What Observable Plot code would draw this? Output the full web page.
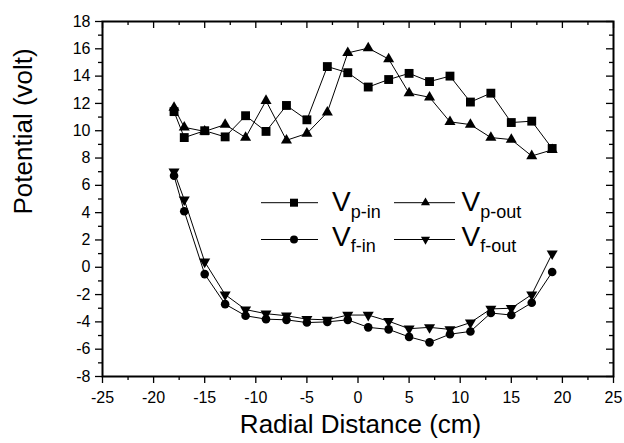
<!DOCTYPE html>
<html><head><meta charset="utf-8">
<script src="https://cdn.jsdelivr.net/npm/d3@7"></script>
<script src="https://cdn.jsdelivr.net/npm/@observablehq/plot@0.6"></script>
<style>
body{margin:0;background:#fff}
#chart{position:relative;width:624px;height:443px}
</style>
</head><body><div id="chart"></div>
<script>
// ---- data ----
const radius = [-18,-17,-15,-13,-11,-9,-7,-5,-3,-1,1,3,5,7,9,11,13,15,17,19];
const vpIn  = [11.4, 9.5, 10.0, 9.55, 11.1, 9.95, 11.85, 10.8, 14.7, 14.25, 13.2, 13.75, 14.2, 13.6, 14.0, 12.1, 12.75, 10.6, 10.7, 8.7];
const vpOut = [11.7, 10.25, 9.95, 10.45, 9.5, 12.2, 9.3, 9.8, 11.35, 15.7, 16.05, 15.25, 12.75, 12.45, 10.65, 10.45, 9.5, 9.35, 8.15, 8.6];
const vfIn  = [6.7, 4.1, -0.5, -2.7, -3.55, -3.8, -3.85, -4.05, -4.0, -3.85, -4.4, -4.55, -5.1, -5.5, -4.9, -4.7, -3.35, -3.5, -2.6, -0.35];
const vfOut = [7.0, 4.95, 0.4, -2.0, -3.1, -3.4, -3.55, -3.8, -3.85, -3.5, -3.5, -3.95, -4.5, -4.4, -4.55, -4.05, -3.05, -3.0, -2.0, 1.0];
const seriesNames = ["p-in", "p-out", "f-in", "f-out"];
const xMajor = [-25,-20,-15,-10,-5,0,5,10,15,20,25];
const xMinor = [-22.5,-17.5,-12.5,-7.5,-2.5,2.5,7.5,12.5,17.5,22.5];
const yMajor = [-8,-6,-4,-2,0,2,4,6,8,10,12,14,16,18];
const yMinor = [-7,-5,-3,-1,1,3,5,7,9,11,13,15,17];
const xLabel = "Radial Distance (cm)";
const yLabel = "Potential (volt)";

// ---- layout ----
const W = 624, H = 443, mL = 102, mR = 11, mT = 21, mB = 67;
const fw = W - mL - mR, fh = H - mT - mB;
const FONT = "'Liberation Sans', Arial, Helvetica, sans-serif";

const series = [
  {name: seriesNames[0], values: vpIn,  symbol: "square",   r: 5.0, rotate: 0},
  {name: seriesNames[1], values: vpOut, symbol: "triangle", r: 4.1, rotate: 0},
  {name: seriesNames[2], values: vfIn,  symbol: "circle",   r: 4.3, rotate: 0},
  {name: seriesNames[3], values: vfOut, symbol: "triangle", r: 4.1, rotate: 180}
];
const table = series.map(s => radius.map((x, i) => ({series: s.name, x, y: s.values[i]})));

const marks = [];
table.forEach(d => marks.push(Plot.line(d, {x: "x", y: "y", stroke: "black", strokeWidth: 1})));
table.forEach((d, k) => marks.push(Plot.dot(d, {x: "x", y: "y", symbol: series[k].symbol, r: series[k].r, rotate: series[k].rotate, fill: "black", stroke: "none"})));

marks.push(
  Plot.axisX({ticks: xMajor, tickSize: 7, tickPadding: 8, tickFormat: d => String(d), fontSize: 16, label: null, strokeWidth: 1.3}),
  Plot.axisX({ticks: xMinor, tickSize: 4, tickFormat: () => "", label: null, strokeWidth: 1.3}),
  Plot.axisY({ticks: yMajor, tickSize: 7, tickPadding: 5, tickFormat: d => String(d), fontSize: 16, label: null, strokeWidth: 1.3}),
  Plot.axisY({ticks: yMinor, tickSize: 4, tickFormat: () => "", label: null, strokeWidth: 1.3}),
  Plot.ruleX(xMajor, {x: d => d, insetBottom: fh - 7, stroke: "black", strokeWidth: 1.3}),
  Plot.ruleX(xMinor, {x: d => d, insetBottom: fh - 4, stroke: "black", strokeWidth: 1.3}),
  Plot.ruleY(yMajor, {y: d => d, insetLeft: fw - 7, stroke: "black", strokeWidth: 1.3}),
  Plot.ruleY(yMinor, {y: d => d, insetLeft: fw - 4, stroke: "black", strokeWidth: 1.3}),
  Plot.frame({stroke: "black", strokeWidth: 2}),
  Plot.text([xLabel], {text: d => d, frameAnchor: "bottom", lineAnchor: "top", dx: 2.5, dy: 38, fontSize: 26, fill: "black"}),
  Plot.text([yLabel], {text: d => d, frameAnchor: "left", rotate: -90, lineAnchor: "top", dx: -89, dy: 15.5, fontSize: 26, fill: "black"})
);

const plot = Plot.plot({
  width: W, height: H,
  marginLeft: mL, marginRight: mR, marginTop: mT, marginBottom: mB,
  x: {domain: [-25, 25]},
  y: {domain: [-8, 18]},
  style: {fontFamily: FONT, color: "black", background: "white", overflow: "visible"},
  marks
});
document.getElementById("chart").appendChild(plot);

// ---- legend (inside the plot area) ----
const svg = d3.select(plot);
const lg = svg.append("g").attr("font-family", FONT).attr("fill", "black").attr("text-anchor", "start");
const cols = [{x0: 261, x1: 318, mx: 294, vx: 332}, {x0: 394, x1: 455, mx: 425.5, vx: 461.5}];
const rowsY = [{y: 202.7, vb: 211}, {y: 239.5, vb: 245.5}];
const symMap = {square: d3.symbolSquare, triangle: d3.symbolTriangle, circle: d3.symbolCircle};
const legSize = {square: 64, triangle: 36, circle: 50};
series.forEach((s, k) => {
  const c = cols[k % 2], r = rowsY[Math.floor(k / 2)];
  lg.append("line").attr("x1", c.x0).attr("x2", c.x1).attr("y1", r.y).attr("y2", r.y).attr("stroke", "black").attr("stroke-width", 1);
  lg.append("path").attr("d", d3.symbol(symMap[s.symbol], legSize[s.symbol])())
    .attr("transform", `translate(${c.mx},${r.y}) rotate(${s.rotate})`).attr("fill", "black");
  const t = lg.append("text").attr("x", c.vx).attr("y", r.vb);
  t.append("tspan").attr("font-size", 28).text("V");
  t.append("tspan").attr("font-size", 18).attr("dx", 0).attr("dy", 6.5).text(s.name);
});
</script>
</body></html>
